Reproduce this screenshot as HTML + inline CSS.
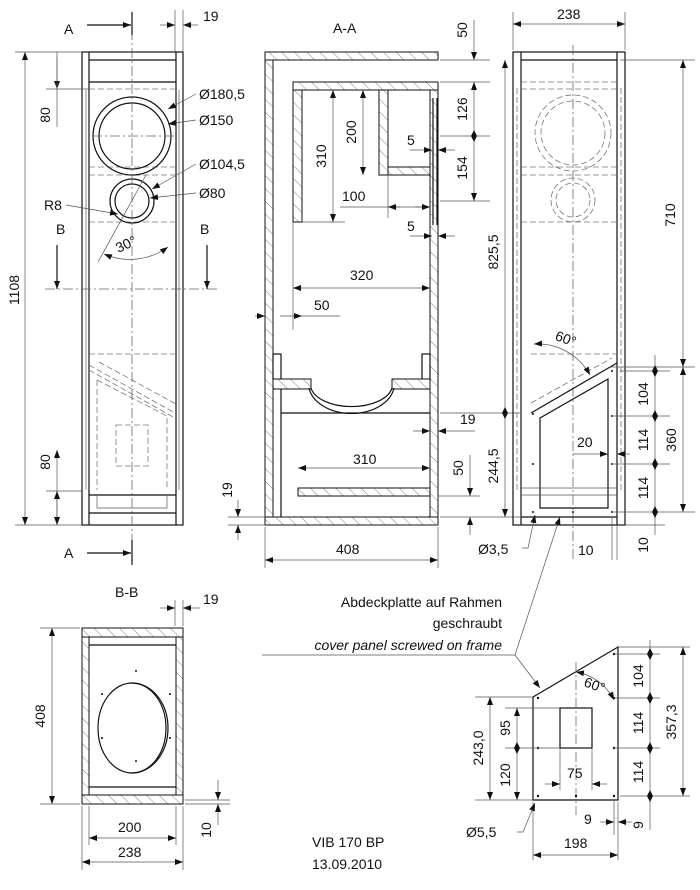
<!DOCTYPE html>
<html><head><meta charset="utf-8"><style>
html,body{margin:0;padding:0;background:#fff}
svg{display:block}
text{font-family:"Liberation Sans",sans-serif;font-size:14px;fill:#111}
.o{fill:none;stroke:#111;stroke-width:1.2}
.t{fill:none;stroke:#555;stroke-width:0.7}
.d{fill:none;stroke:#777;stroke-width:0.8;stroke-dasharray:6 3}
.c{fill:none;stroke:#666;stroke-width:0.8;stroke-dasharray:10 3 2 3}
.h{fill:url(#hatch);stroke:#111;stroke-width:1}
</style></head><body>
<svg width="700" height="890" viewBox="0 0 700 890" xmlns="http://www.w3.org/2000/svg">
<defs>
<pattern id="hatch" width="9" height="9" patternUnits="userSpaceOnUse" patternTransform="rotate(-45)">
<rect width="9" height="9" fill="#fff"/><line x1="0" y1="0" x2="0" y2="9" stroke="#666" stroke-width="0.8"/></pattern>
<marker id="a" markerWidth="8" markerHeight="6" refX="8" refY="3" orient="auto-start-reverse" markerUnits="userSpaceOnUse"><path d="M0,0 L8,3 L0,6z" fill="#111"/></marker>
</defs>

<!-- ===== FRONT VIEW ===== -->
<rect class="o" x="82" y="52" width="101" height="473"/>
<line class="o" x1="89" y1="52" x2="89" y2="525"/><line class="o" x1="176" y1="52" x2="176" y2="525"/>
<line class="o" x1="89" y1="60" x2="176" y2="60"/><line class="o" x1="89" y1="82" x2="176" y2="82"/>
<line class="t" x1="86" y1="90" x2="86" y2="490"/><line class="t" x1="179" y1="90" x2="179" y2="490"/>
<line class="d" x1="89" y1="89" x2="176" y2="89"/>
<line class="d" x1="89" y1="167" x2="176" y2="167"/><line class="d" x1="89" y1="175" x2="176" y2="175"/>
<line class="d" x1="89" y1="222" x2="176" y2="222"/>
<circle class="o" cx="132" cy="136" r="39"/><circle class="o" cx="132" cy="136" r="33"/>
<circle class="o" cx="132" cy="201" r="22"/><circle class="o" cx="132" cy="201" r="17"/>
<line class="c" x1="132" y1="12" x2="132" y2="560"/>
<line class="c" x1="92" y1="136" x2="176" y2="136"/>
<line class="t" x1="98" y1="262" x2="146" y2="175"/>
<path class="t" d="M104,254 A65,65 0 0 0 168,247" marker-start="url(#a)" marker-end="url(#a)"/>
<line class="c" x1="45" y1="289" x2="220" y2="289"/>
<line class="o" x1="57" y1="245" x2="57" y2="289" marker-end="url(#a)"/>
<line class="o" x1="207" y1="245" x2="207" y2="289" marker-end="url(#a)"/>
<text x="56" y="234">B</text><text x="200" y="234">B</text>
<text x="115" y="248" transform="rotate(-25 128 243)">30°</text>
<line class="o" x1="87" y1="25" x2="131" y2="25" marker-end="url(#a)"/>
<line class="o" x1="132" y1="12" x2="132" y2="35"/>
<text x="64" y="34">A</text>
<line class="o" x1="87" y1="553" x2="131" y2="553" marker-end="url(#a)"/>
<line class="o" x1="132" y1="540" x2="132" y2="565"/>
<text x="64" y="558">A</text>
<line class="d" x1="89" y1="354" x2="176" y2="354"/>
<path class="d" d="M89,365 L175,413 M99,362 L176,404 M97,380 L167,416 L167,490 M97,380 L97,490 M89,370 L175,418"/>
<rect class="d" x="116" y="425" width="32" height="41"/>
<line class="o" x1="89" y1="495" x2="176" y2="495"/><line class="o" x1="89" y1="513" x2="176" y2="513"/>
<path class="t" d="M97,495 V508 H167 V495"/>
<line class="t" x1="15" y1="52" x2="82" y2="52"/><line class="t" x1="15" y1="525" x2="82" y2="525"/>
<line class="t" x1="25" y1="52" x2="25" y2="525" marker-start="url(#a)" marker-end="url(#a)"/>
<text x="19" y="290" transform="rotate(-90 19 290)" text-anchor="middle">1108</text>
<line class="t" x1="46" y1="89" x2="89" y2="89"/>
<line class="t" x1="57" y1="57" x2="57" y2="89" marker-end="url(#a)"/><line class="t" x1="57" y1="52" x2="57" y2="127"/>
<text x="50" y="115" transform="rotate(-90 50 115)" text-anchor="middle">80</text>
<line class="t" x1="46" y1="491" x2="82" y2="491"/>
<line class="t" x1="57" y1="450" x2="57" y2="525" marker-start="url(#a)"/>
<line class="t" x1="57" y1="491" x2="57" y2="525" marker-start="url(#a)" marker-end="url(#a)"/>
<text x="50" y="462" transform="rotate(-90 50 462)" text-anchor="middle">80</text>
<line class="t" x1="175" y1="10" x2="175" y2="52"/><line class="t" x1="183" y1="10" x2="183" y2="52"/>
<line class="t" x1="160" y1="25" x2="175" y2="25" marker-end="url(#a)"/><line class="t" x1="198" y1="25" x2="183" y2="25" marker-end="url(#a)"/>
<text x="203" y="21">19</text>
<path class="t" d="M196,94 L168,109" marker-end="url(#a)"/><text x="199" y="99">Ø180,5</text>
<path class="t" d="M196,120 L168,124" marker-end="url(#a)"/><text x="199" y="125">Ø150</text>
<path class="t" d="M196,164 L152,189" marker-end="url(#a)"/><text x="199" y="169">Ø104,5</text>
<path class="t" d="M196,193 L150,198" marker-end="url(#a)"/><text x="199" y="198">Ø80</text>
<path class="t" d="M66,205 L118,214" marker-end="url(#a)"/><text x="44" y="210">R8</text>

<!-- ===== A-A SECTION ===== -->
<text x="333" y="33">A-A</text>
<rect class="h" x="265" y="52" width="173" height="8"/>
<rect class="h" x="265" y="60" width="8" height="465"/>
<rect class="h" x="293" y="82" width="145" height="8"/>
<rect class="h" x="430" y="90" width="8" height="427"/>
<rect class="h" x="293" y="90" width="9" height="132"/>
<rect class="h" x="379" y="90" width="9" height="85"/>
<rect class="h" x="388" y="167" width="42" height="8"/>
<line class="o" x1="433" y1="98" x2="433" y2="225"/><line class="o" x1="437" y1="98" x2="437" y2="225"/>
<rect class="o" x="273" y="354" width="8" height="26"/><rect class="o" x="422" y="354" width="8" height="26"/>
<path class="h" d="M273,379 H311 V389 H273Z"/><path class="h" d="M392,379 H430 V389 H392Z"/>
<path class="o" d="M311,388 A41,22 0 0 0 392,388"/><path class="o" d="M309,388 A43,30 0 0 0 394,388"/>
<line class="o" x1="281" y1="413" x2="430" y2="413"/>
<line class="o" x1="281" y1="389" x2="281" y2="517"/>
<rect class="h" x="298" y="488" width="132" height="8"/>
<rect class="h" x="265" y="517" width="173" height="8"/>
<line class="t" x1="440" y1="60" x2="490" y2="60"/><line class="t" x1="440" y1="82" x2="490" y2="82"/>
<line class="t" x1="474" y1="20" x2="474" y2="60" marker-end="url(#a)"/>
<line class="t" x1="474" y1="82" x2="474" y2="201" marker-start="url(#a)" marker-end="url(#a)"/>
<line class="t" x1="440" y1="136" x2="490" y2="136"/><line class="t" x1="440" y1="201" x2="490" y2="201"/>
<path d="M471,136 l3,-6 l3,6z M471,136 l3,6 l3,-6z" fill="#111"/>
<text x="467" y="30" transform="rotate(-90 467 30)" text-anchor="middle">50</text>
<text x="467" y="109" transform="rotate(-90 467 109)" text-anchor="middle">126</text>
<text x="467" y="168" transform="rotate(-90 467 168)" text-anchor="middle">154</text>
<line class="t" x1="363" y1="90" x2="363" y2="175" marker-start="url(#a)" marker-end="url(#a)"/>
<text x="356" y="132" transform="rotate(-90 356 132)" text-anchor="middle">200</text>
<line class="t" x1="333" y1="90" x2="333" y2="222" marker-start="url(#a)" marker-end="url(#a)"/>
<text x="326" y="156" transform="rotate(-90 326 156)" text-anchor="middle">310</text>
<line class="t" x1="302" y1="222" x2="345" y2="222"/>
<line class="t" x1="388" y1="175" x2="388" y2="218"/>
<line class="t" x1="340" y1="207" x2="430" y2="207"/>
<line class="t" x1="400" y1="207" x2="388" y2="207" marker-end="url(#a)"/><line class="t" x1="415" y1="207" x2="430" y2="207" marker-end="url(#a)"/>
<text x="342" y="201">100</text>
<line class="t" x1="410" y1="150" x2="432" y2="150" marker-end="url(#a)"/><line class="t" x1="455" y1="150" x2="438" y2="150" marker-end="url(#a)"/>
<text x="407" y="145">5</text>
<line class="t" x1="410" y1="236" x2="432" y2="236" marker-end="url(#a)"/><line class="t" x1="455" y1="236" x2="438" y2="236" marker-end="url(#a)"/>
<text x="407" y="231">5</text>
<line class="t" x1="293" y1="288" x2="430" y2="288" marker-start="url(#a)" marker-end="url(#a)"/>
<text x="350" y="280">320</text>
<line class="t" x1="293" y1="222" x2="293" y2="330"/>
<line class="t" x1="255" y1="316" x2="265" y2="316" marker-end="url(#a)"/>
<line class="t" x1="280" y1="316" x2="302" y2="316" marker-end="url(#a)"/><line class="t" x1="302" y1="316" x2="340" y2="316"/>
<text x="314" y="310">50</text>
<line class="t" x1="413" y1="431" x2="430" y2="431" marker-end="url(#a)"/><line class="t" x1="475" y1="431" x2="438" y2="431" marker-end="url(#a)"/>
<text x="460" y="424">19</text>
<line class="t" x1="298" y1="468" x2="430" y2="468" marker-start="url(#a)" marker-end="url(#a)"/>
<text x="353" y="464">310</text>
<line class="t" x1="438" y1="496" x2="480" y2="496"/>
<line class="t" x1="470" y1="455" x2="470" y2="496" marker-end="url(#a)"/>
<line class="t" x1="470" y1="535" x2="470" y2="517" marker-end="url(#a)"/>
<text x="463" y="468" transform="rotate(-90 463 468)" text-anchor="middle">50</text>
<line class="t" x1="228" y1="517" x2="265" y2="517"/><line class="t" x1="228" y1="525" x2="265" y2="525"/>
<line class="t" x1="238" y1="500" x2="238" y2="517" marker-end="url(#a)"/><line class="t" x1="238" y1="540" x2="238" y2="525" marker-end="url(#a)"/>
<text x="232" y="490" transform="rotate(-90 232 490)" text-anchor="middle">19</text>
<line class="t" x1="265" y1="527" x2="265" y2="568"/><line class="t" x1="438" y1="527" x2="438" y2="568"/>
<line class="t" x1="265" y1="560" x2="438" y2="560" marker-start="url(#a)" marker-end="url(#a)"/>
<text x="336" y="554">408</text>
<line class="t" x1="505" y1="60" x2="505" y2="517" marker-start="url(#a)" marker-end="url(#a)"/>
<line class="t" x1="440" y1="413" x2="520" y2="413"/><line class="t" x1="440" y1="517" x2="520" y2="517"/>
<path d="M502,413 l3,-6 l3,6z M502,413 l3,6 l3,-6z" fill="#111"/>
<text x="498" y="252" transform="rotate(-90 498 252)" text-anchor="middle">825,5</text>
<text x="498" y="466" transform="rotate(-90 498 466)" text-anchor="middle">244,5</text>

<!-- ===== RIGHT VIEW ===== -->
<rect class="o" x="513" y="52" width="112" height="473"/>
<line class="o" x1="521" y1="52" x2="521" y2="525"/><line class="o" x1="617" y1="52" x2="617" y2="525"/>
<line class="o" x1="521" y1="60" x2="617" y2="60"/>
<line class="d" x1="517" y1="88" x2="517" y2="490"/><line class="d" x1="621" y1="88" x2="621" y2="490"/>
<line class="d" x1="521" y1="82" x2="617" y2="82"/><line class="d" x1="521" y1="89" x2="617" y2="89"/>
<line class="d" x1="521" y1="167" x2="617" y2="167"/><line class="d" x1="521" y1="175" x2="617" y2="175"/>
<line class="d" x1="521" y1="222" x2="617" y2="222"/>
<circle class="d" cx="573" cy="133" r="38"/><circle class="d" cx="573" cy="133" r="32"/>
<circle class="d" cx="573" cy="200" r="22"/><circle class="d" cx="573" cy="200" r="17"/>
<line class="c" x1="573" y1="45" x2="573" y2="560"/>
<line class="d" x1="531" y1="354" x2="617" y2="354"/>
<path class="o" d="M531,413 L617,363"/>
<path class="d" d="M531,403 L612,358"/>
<path class="o" d="M540,418 L608,379 L608,508 L540,508Z"/>
<line class="o" x1="521" y1="517" x2="617" y2="517"/>
<line class="t" x1="521" y1="488" x2="617" y2="488"/><line class="t" x1="521" y1="495" x2="617" y2="495"/>
<path class="t" d="M534,344 A60,60 0 0 1 590,375" marker-start="url(#a)" marker-end="url(#a)"/>
<text x="555" y="345" transform="rotate(20 570 340)">60°</text>
<g fill="#111"><circle cx="533" cy="414" r="1"/><circle cx="533" cy="464" r="1"/><circle cx="533" cy="512" r="1"/><circle cx="573" cy="512" r="1"/><circle cx="612" cy="512" r="1"/><circle cx="612" cy="464" r="1"/><circle cx="612" cy="416" r="1"/><circle cx="612" cy="371" r="1"/></g>
<line class="t" x1="513" y1="12" x2="513" y2="50"/><line class="t" x1="625" y1="12" x2="625" y2="50"/>
<line class="t" x1="513" y1="24" x2="625" y2="24" marker-start="url(#a)" marker-end="url(#a)"/>
<text x="557" y="19">238</text>
<line class="t" x1="620" y1="60" x2="695" y2="60"/>
<line class="t" x1="683" y1="60" x2="683" y2="367" marker-start="url(#a)" marker-end="url(#a)"/>
<text x="675" y="215" transform="rotate(-90 675 215)" text-anchor="middle">710</text>
<line class="t" x1="610" y1="367" x2="695" y2="367"/><line class="t" x1="620" y1="371" x2="670" y2="371"/>
<line class="t" x1="612" y1="416" x2="670" y2="416"/><line class="t" x1="612" y1="464" x2="670" y2="464"/>
<line class="t" x1="612" y1="512" x2="695" y2="512"/>
<line class="t" x1="655" y1="355" x2="655" y2="535"/>
<line class="t" x1="683" y1="367" x2="683" y2="512" marker-start="url(#a)" marker-end="url(#a)"/>
<g fill="#111"><path d="M652,371 l3,-6 l3,6z M652,371 l3,6 l3,-6z M652,416 l3,-6 l3,6z M652,416 l3,6 l3,-6z M652,464 l3,-6 l3,6z M652,464 l3,6 l3,-6z M652,512 l3,-6 l3,6z M652,512 l3,6 l3,-6z"/></g>
<text x="648" y="394" transform="rotate(-90 648 394)" text-anchor="middle">104</text>
<text x="648" y="440" transform="rotate(-90 648 440)" text-anchor="middle">114</text>
<text x="648" y="488" transform="rotate(-90 648 488)" text-anchor="middle">114</text>
<text x="676" y="440" transform="rotate(-90 676 440)" text-anchor="middle">360</text>
<line class="t" x1="573" y1="454" x2="608" y2="454" marker-end="url(#a)"/><line class="t" x1="630" y1="454" x2="617" y2="454" marker-end="url(#a)"/>
<text x="577" y="447">20</text>
<line class="t" x1="612" y1="517" x2="612" y2="560"/><line class="t" x1="617" y1="525" x2="617" y2="560"/>
<text x="578" y="555">10</text>
<line class="t" x1="625" y1="525" x2="665" y2="525"/>
<text x="648" y="545" transform="rotate(-90 648 545)" text-anchor="middle">10</text>
<path class="t" d="M522,548 L528,548 L535,515" marker-end="url(#a)"/>
<text x="478" y="554">Ø3,5</text>
<path class="t" d="M515,655 L560,517" marker-end="url(#a)"/>

<!-- ===== NOTE ===== -->
<text x="502" y="607" text-anchor="end">Abdeckplatte auf Rahmen</text>
<text x="502" y="628" text-anchor="end">geschraubt</text>
<text x="502" y="650" text-anchor="end" font-style="italic">cover panel screwed on frame</text>
<path class="t" d="M262,655 L515,655 L540,688" marker-end="url(#a)"/>

<!-- ===== COVER PANEL ===== -->
<path class="o" d="M533,697 L618,647 L618,800 L533,800Z"/>
<rect class="o" x="560" y="708" width="32" height="40"/>
<line class="c" x1="576" y1="662" x2="576" y2="815"/>
<g fill="#111"><circle cx="538" cy="698" r="1.2"/><circle cx="538" cy="748" r="1.2"/><circle cx="538" cy="796" r="1.2"/><circle cx="576" cy="796" r="1.2"/><circle cx="614" cy="796" r="1.2"/><circle cx="614" cy="748" r="1.2"/><circle cx="614" cy="698" r="1.2"/><circle cx="614" cy="654" r="1.2"/></g>
<path class="t" d="M576,672 A52,52 0 0 1 614,700" marker-start="url(#a)" marker-end="url(#a)"/>
<text x="584" y="690" transform="rotate(20 595 685)">60°</text>
<line class="t" x1="475" y1="697" x2="533" y2="697"/><line class="t" x1="475" y1="800" x2="533" y2="800"/>
<line class="t" x1="490" y1="697" x2="490" y2="800" marker-start="url(#a)" marker-end="url(#a)"/>
<text x="483" y="748" transform="rotate(-90 483 748)" text-anchor="middle">243,0</text>
<line class="t" x1="505" y1="708" x2="560" y2="708"/><line class="t" x1="505" y1="748" x2="560" y2="748"/>
<line class="t" x1="517" y1="708" x2="517" y2="800" marker-start="url(#a)" marker-end="url(#a)"/>
<path d="M514,748 l3,-6 l3,6z M514,748 l3,6 l3,-6z" fill="#111"/>
<text x="510" y="728" transform="rotate(-90 510 728)" text-anchor="middle">95</text>
<text x="510" y="775" transform="rotate(-90 510 775)" text-anchor="middle">120</text>
<line class="t" x1="560" y1="748" x2="560" y2="790"/><line class="t" x1="592" y1="748" x2="592" y2="790"/>
<line class="t" x1="545" y1="784" x2="560" y2="784" marker-end="url(#a)"/><line class="t" x1="607" y1="784" x2="592" y2="784" marker-end="url(#a)"/>
<text x="567" y="778">75</text>
<line class="t" x1="618" y1="647" x2="690" y2="647"/><line class="t" x1="614" y1="654" x2="660" y2="654"/>
<line class="t" x1="614" y1="698" x2="660" y2="698"/><line class="t" x1="614" y1="748" x2="660" y2="748"/>
<line class="t" x1="620" y1="796" x2="690" y2="796"/>
<line class="t" x1="650" y1="640" x2="650" y2="830"/>
<g fill="#111"><path d="M647,654 l3,-6 l3,6z M647,654 l3,6 l3,-6z M647,698 l3,-6 l3,6z M647,698 l3,6 l3,-6z M647,748 l3,-6 l3,6z M647,748 l3,6 l3,-6z M647,796 l3,-6 l3,6z M647,796 l3,6 l3,-6z"/></g>
<line class="t" x1="683" y1="647" x2="683" y2="796" marker-start="url(#a)" marker-end="url(#a)"/>
<text x="643" y="676" transform="rotate(-90 643 676)" text-anchor="middle">104</text>
<text x="643" y="723" transform="rotate(-90 643 723)" text-anchor="middle">114</text>
<text x="643" y="772" transform="rotate(-90 643 772)" text-anchor="middle">114</text>
<text x="676" y="722" transform="rotate(-90 676 722)" text-anchor="middle">357,3</text>
<line class="t" x1="614" y1="800" x2="614" y2="835"/><line class="t" x1="618" y1="802" x2="618" y2="860"/>
<line class="t" x1="600" y1="822" x2="614" y2="822" marker-end="url(#a)"/><line class="t" x1="632" y1="822" x2="618" y2="822" marker-end="url(#a)"/>
<text x="584" y="824">9</text>
<text x="643" y="825" transform="rotate(-90 643 825)" text-anchor="middle">9</text>
<line class="t" x1="533" y1="802" x2="533" y2="860"/>
<line class="t" x1="533" y1="855" x2="618" y2="855" marker-start="url(#a)" marker-end="url(#a)"/>
<text x="564" y="848">198</text>
<path class="t" d="M517,832 L523,832 L535,803" marker-end="url(#a)"/>
<text x="466" y="837">Ø5,5</text>

<!-- ===== B-B ===== -->
<text x="115" y="597">B-B</text>
<rect class="h" x="82" y="628" width="101" height="9"/>
<rect class="h" x="82" y="795" width="101" height="9"/>
<rect class="h" x="82" y="637" width="7" height="158"/>
<rect class="h" x="176" y="637" width="7" height="158"/>
<line class="o" x1="89" y1="645" x2="176" y2="645"/><line class="o" x1="89" y1="787" x2="176" y2="787"/>
<ellipse class="o" cx="132" cy="728" rx="34" ry="45"/>
<path class="o" d="M132,683 A36,45 0 0 1 132,773"/>
<g fill="#111"><circle cx="136" cy="671" r="1"/><circle cx="136" cy="761" r="1"/><circle cx="102" cy="694" r="1"/><circle cx="102" cy="738" r="1"/><circle cx="170" cy="694" r="1"/><circle cx="170" cy="738" r="1"/></g>
<line class="t" x1="40" y1="628" x2="80" y2="628"/><line class="t" x1="40" y1="804" x2="80" y2="804"/>
<line class="t" x1="52" y1="628" x2="52" y2="804" marker-start="url(#a)" marker-end="url(#a)"/>
<text x="45" y="716" transform="rotate(-90 45 716)" text-anchor="middle">408</text>
<line class="t" x1="175" y1="600" x2="175" y2="626"/><line class="t" x1="183" y1="600" x2="183" y2="626"/>
<line class="t" x1="160" y1="608" x2="175" y2="608" marker-end="url(#a)"/><line class="t" x1="200" y1="608" x2="183" y2="608" marker-end="url(#a)"/>
<text x="203" y="604">19</text>
<line class="t" x1="89" y1="806" x2="89" y2="845"/><line class="t" x1="176" y1="806" x2="176" y2="845"/>
<line class="t" x1="89" y1="838" x2="176" y2="838" marker-start="url(#a)" marker-end="url(#a)"/>
<text x="118" y="832">200</text>
<line class="t" x1="82" y1="806" x2="82" y2="870"/><line class="t" x1="183" y1="806" x2="183" y2="870"/>
<line class="t" x1="82" y1="862" x2="183" y2="862" marker-start="url(#a)" marker-end="url(#a)"/>
<text x="118" y="857">238</text>
<line class="t" x1="185" y1="800" x2="230" y2="800"/><line class="t" x1="185" y1="804" x2="230" y2="804"/>
<line class="t" x1="218" y1="780" x2="218" y2="800" marker-end="url(#a)"/><line class="t" x1="218" y1="825" x2="218" y2="804" marker-end="url(#a)"/>
<text x="211" y="830" transform="rotate(-90 211 830)" text-anchor="middle">10</text>

<text x="312" y="847">VIB 170 BP</text>
<text x="312" y="869">13.09.2010</text>
</svg>
</body></html>
